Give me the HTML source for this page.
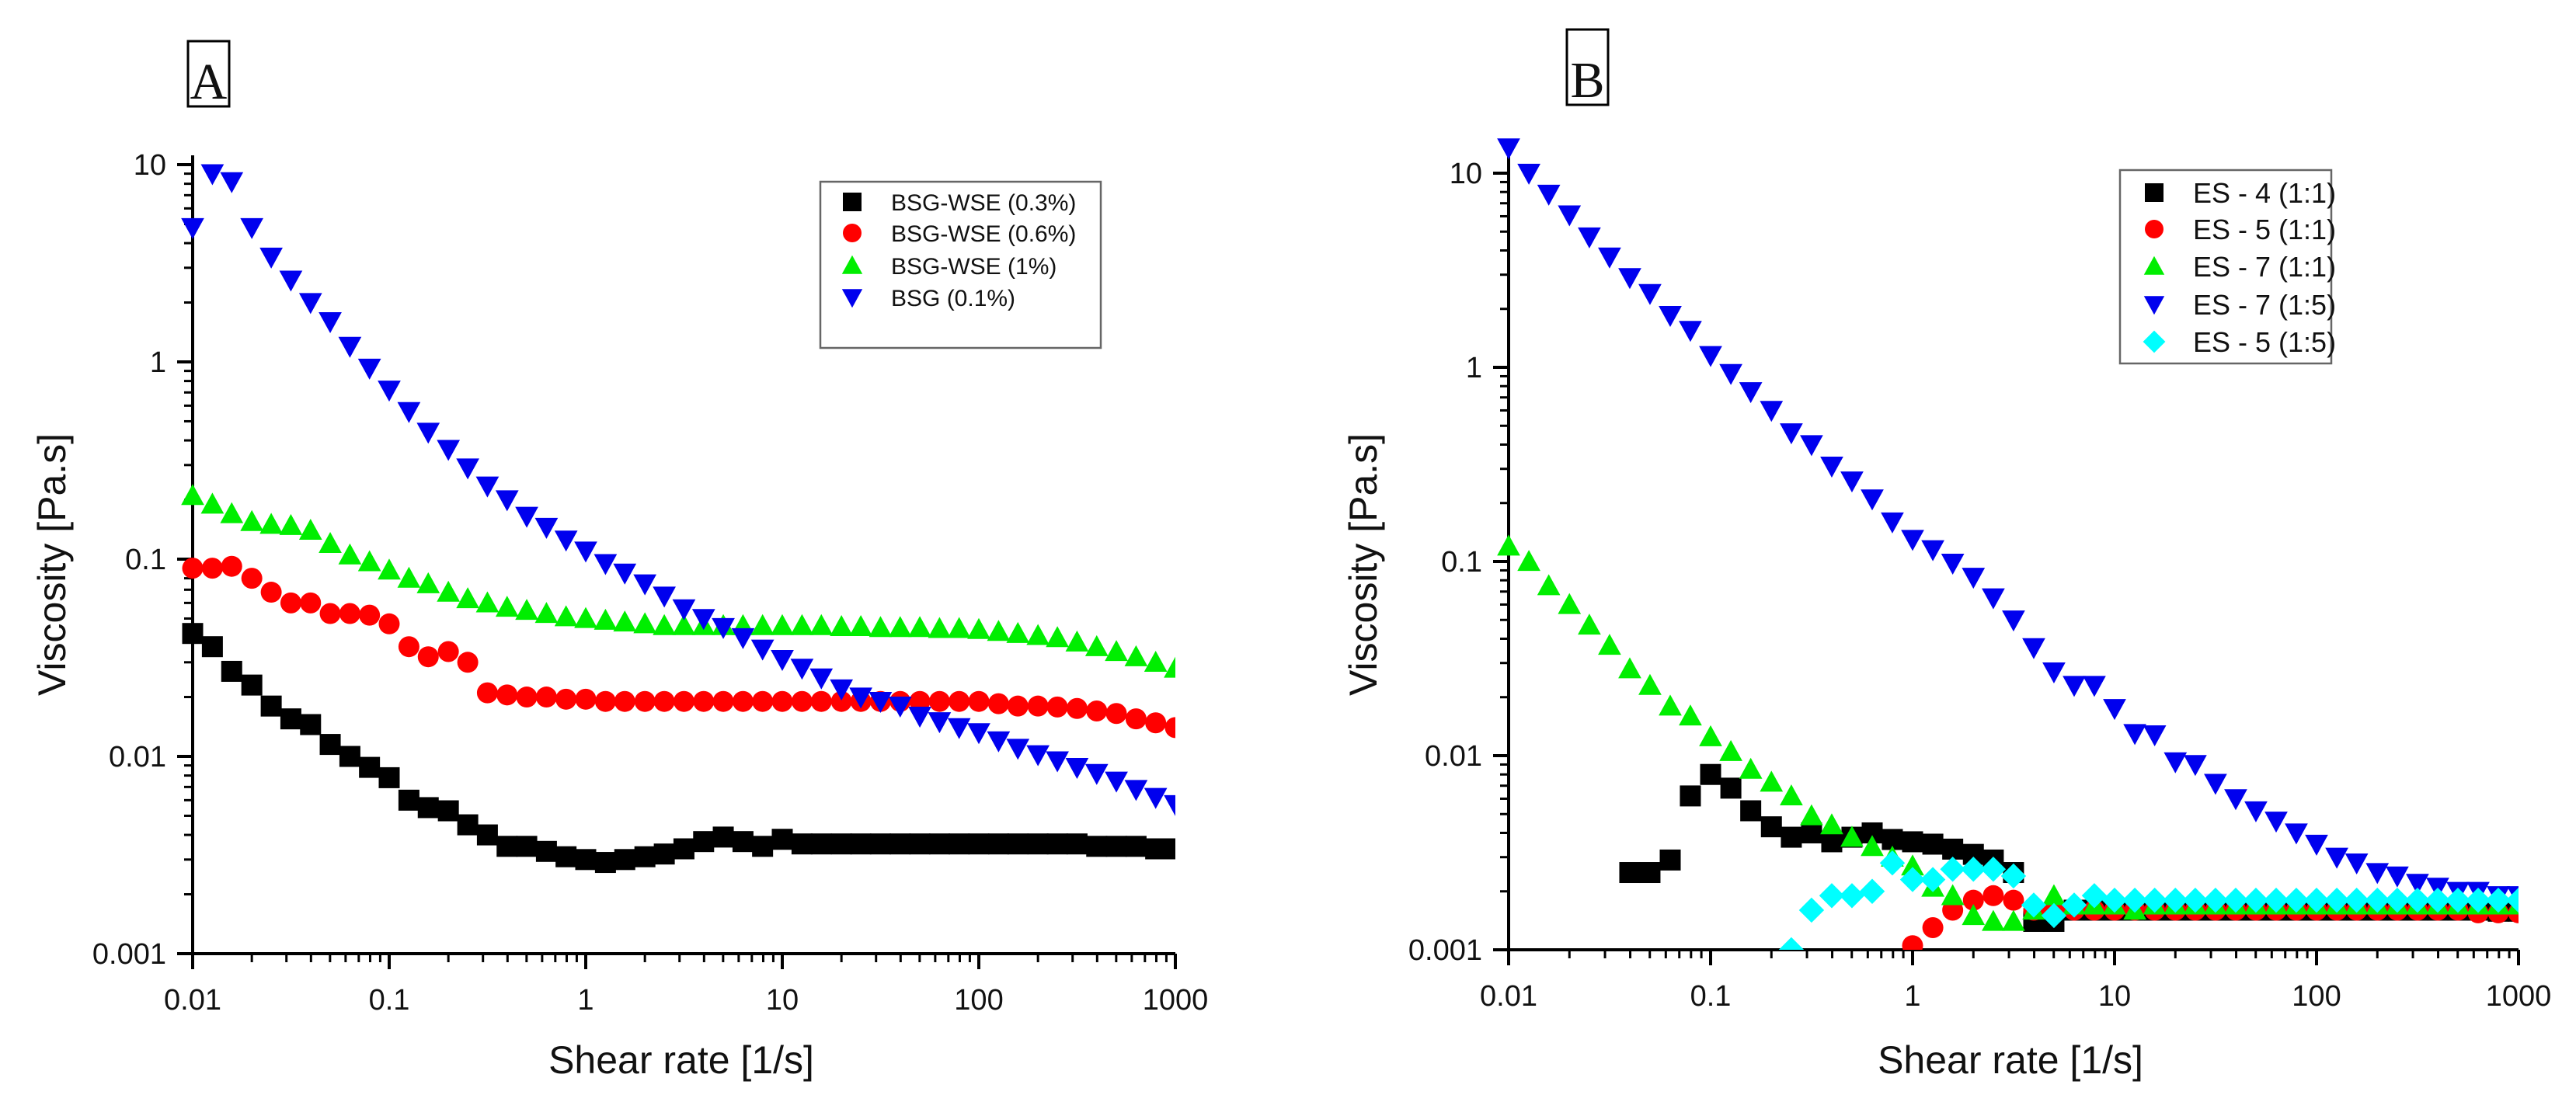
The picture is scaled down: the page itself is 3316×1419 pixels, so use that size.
<!DOCTYPE html>
<html><head><meta charset="utf-8">
<style>
html,body{margin:0;padding:0;background:#fff;}
svg{display:block;}
text{font-family:"Liberation Sans",Arial,sans-serif;fill:#111;}
</style></head>
<body>
<svg id="fig" width="3316" height="1419" viewBox="0 0 3316 1419" xmlns="http://www.w3.org/2000/svg">
  <g id="panelA"></g>
  <g id="panelB"></g>
</svg>
<script>
// shared x categories: shear rates (log-spaced, 10 per decade, 0.01..1000)
const shearRates = [0.01,0.0126,0.0158,0.02,0.0251,0.0316,0.0398,0.0501,0.0631,0.0794,
0.1,0.126,0.158,0.2,0.251,0.316,0.398,0.501,0.631,0.794,
1,1.26,1.58,2,2.51,3.16,3.98,5.01,6.31,7.94,
10,12.6,15.8,20,25.1,31.6,39.8,50.1,63.1,79.4,
100,126,158,200,251,316,398,501,631,794,1000];
const xTickLabels = ["0.01","0.1","1","10","100","1000"];
const xTickValues = [0.01,0.1,1,10,100,1000];
const yTickLabels = ["0.001","0.01","0.1","1","10"];
const yTickValues = [0.001,0.01,0.1,1,10];

// Panel A series
const aBlack = [0.042,0.036,0.027,0.023,0.018,0.0155,0.0145,0.0115,0.010,0.0088,
0.0078,0.006,0.0055,0.0053,0.0045,0.004,0.0035,0.0035,0.0033,0.0031,
0.003,0.0029,0.003,0.0031,0.0032,0.0034,0.0037,0.0039,0.0037,0.0035,
0.0038,0.0036,0.0036,0.0036,0.0036,0.0036,0.0036,0.0036,0.0036,0.0036,
0.0036,0.0036,0.0036,0.0036,0.0036,0.0036,0.0035,0.0035,0.0035,0.0034,0.0034];
const aRed = [0.09,0.09,0.092,0.08,0.068,0.06,0.06,0.053,0.053,0.052,
0.047,0.036,0.032,0.034,0.030,0.021,0.0205,0.020,0.020,0.0195,
0.0195,0.019,0.019,0.019,0.019,0.019,0.019,0.019,0.019,0.019,
0.019,0.019,0.019,0.019,0.019,0.019,0.019,0.019,0.019,0.019,
0.019,0.0185,0.018,0.018,0.0178,0.0175,0.017,0.0165,0.0155,0.0148,0.014];
const aGreen = [0.21,0.19,0.17,0.155,0.15,0.148,0.14,0.12,0.105,0.097,
0.088,0.08,0.075,0.068,0.063,0.06,0.057,0.055,0.053,0.051,
0.05,0.049,0.048,0.047,0.046,0.046,0.046,0.046,0.046,0.046,
0.046,0.046,0.046,0.0455,0.0455,0.045,0.045,0.045,0.0445,0.0445,
0.044,0.043,0.042,0.041,0.04,0.038,0.036,0.034,0.032,0.030,0.028];
const aBlue = [4.8,9.0,8.2,4.8,3.4,2.6,2.0,1.6,1.2,0.93,
0.72,0.56,0.44,0.36,0.29,0.235,0.2,0.165,0.145,0.125,
0.11,0.095,0.085,0.075,0.065,0.056,0.05,0.045,0.04,0.035,
0.031,0.028,0.025,0.022,0.02,0.019,0.018,0.016,0.015,0.014,
0.0132,0.012,0.011,0.0102,0.0095,0.0088,0.0082,0.0075,0.0068,0.0062,0.0057];

// Panel B series (null = no point)
const bBlack = [null,null,null,null,null,null,0.0025,0.0025,0.0029,0.0062,
0.008,0.0068,0.0052,0.0043,0.0038,0.004,0.0036,0.0038,0.004,0.0037,
0.0036,0.0035,0.0033,0.0031,0.0029,0.0025,0.0014,0.0014,0.0016,0.0016,
0.0016,0.0016,0.0016,0.0016,0.0016,0.0016,0.0016,0.0016,0.0016,0.0016,
0.0016,0.0016,0.0016,0.0016,0.0016,0.0016,0.0016,0.0016,0.0016,0.00158,0.00158];
const bRed = [null,null,null,null,null,null,null,null,null,null,
null,null,null,null,null,null,null,null,null,null,
0.00105,0.0013,0.0016,0.0018,0.0019,0.0018,0.0016,0.0016,0.0016,0.0016,
0.0016,0.0016,0.0016,0.0016,0.0016,0.0016,0.0016,0.0016,0.0016,0.0016,
0.0016,0.0016,0.0016,0.0016,0.0016,0.0016,0.0016,0.0016,0.00155,0.00155,0.00155];
const bGreen = [0.12,0.1,0.075,0.06,0.047,0.037,0.028,0.023,0.018,0.016,
0.0125,0.0105,0.0085,0.0073,0.0062,0.0049,0.0044,0.0038,0.0034,0.003,
0.0027,0.0021,0.0019,0.0015,0.0014,0.0014,0.0016,0.0019,0.0017,0.0017,
0.0017,0.0016,0.0017,0.0017,0.0017,0.0017,0.0017,0.0017,0.0017,0.0017,
0.0017,0.0017,0.0017,0.0017,0.0017,0.0017,0.0017,0.0017,0.0017,0.0017,0.0017];
const bBlue = [13.5,10,7.8,6.1,4.7,3.7,2.9,2.4,1.85,1.55,
1.15,0.93,0.75,0.6,0.46,0.4,0.31,0.26,0.21,0.16,
0.13,0.115,0.098,0.083,0.065,0.05,0.036,0.027,0.023,0.023,
0.0175,0.013,0.0128,0.0093,0.009,0.0072,0.006,0.0052,0.0046,0.004,
0.0035,0.003,0.0028,0.0025,0.0024,0.0022,0.0021,0.002,0.002,0.0019,0.0019];
const bCyan = [null,null,null,null,null,null,null,null,null,null,
null,null,null,null,0.001,0.0016,0.0019,0.0019,0.002,0.0028,
0.0023,0.0023,0.0026,0.0026,0.0026,0.0024,0.0017,0.0015,0.0017,0.0019,
0.0018,0.0018,0.0018,0.0018,0.0018,0.0018,0.0018,0.0018,0.0018,0.0018,
0.0018,0.0018,0.0018,0.0018,0.0018,0.0018,0.0018,0.0018,0.0018,0.0018,0.0018];

const legendA = ["BSG-WSE (0.3%)","BSG-WSE (0.6%)","BSG-WSE (1%)","BSG (0.1%)"];
const legendB = ["ES - 4 (1:1)","ES - 5 (1:1)","ES - 7 (1:1)","ES - 7 (1:5)","ES - 5 (1:5)"];

const NS = "http://www.w3.org/2000/svg";
function mk(parent, tag, attrs) {
  const e = document.createElementNS(NS, tag);
  for (const k in attrs) e.setAttribute(k, attrs[k]);
  parent.appendChild(e);
  return e;
}
function marker(g, shape, cx, cy, s) {
  let e;
  if (shape === "square") {
    e = mk(g, "rect", {x: cx - s/2, y: cy - s/2, width: s, height: s, fill: "#000"});
  } else if (shape === "circle") {
    e = mk(g, "circle", {cx: cx, cy: cy, r: s/2, fill: "#ff0000"});
  } else if (shape === "up") {
    e = mk(g, "polygon", {points: `${cx},${cy - s*0.55} ${cx + s*0.55},${cy + s*0.45} ${cx - s*0.55},${cy + s*0.45}`, fill: "#00ee00"});
  } else if (shape === "down") {
    e = mk(g, "polygon", {points: `${cx - s*0.55},${cy - s*0.45} ${cx + s*0.55},${cy - s*0.45} ${cx},${cy + s*0.55}`, fill: "#0000ee"});
  } else {
    e = mk(g, "polygon", {points: `${cx},${cy - s*0.6} ${cx + s*0.6},${cy} ${cx},${cy + s*0.6} ${cx - s*0.6},${cy}`, fill: "#00ffff"});
  }
  return e;
}

function drawPanel(g, cfg) {
  const xs = v => cfg.x0 + (Math.log10(v) + 2) * cfg.xDec;
  const ys = v => cfg.y0 - (Math.log10(v) + 3) * cfg.yDec;
  const clipId = cfg.id + "-clip";
  const defs = mk(g, "defs", {});
  const cp = mk(defs, "clipPath", {id: clipId});
  mk(cp, "rect", {x: cfg.x0 - 20, y: cfg.top - 10, width: xs(1000) - cfg.x0 + 20, height: cfg.y0 - cfg.top + 10});

  // axes
  const axes = mk(g, "g", {stroke: "#000", "stroke-width": 4});
  
  
  mk(axes, "line", {x1: cfg.x0, y1: cfg.top, x2: cfg.x0, y2: cfg.y0 + 20});
  mk(axes, "line", {x1: cfg.x0 - 20, y1: cfg.y0, x2: xs(1000), y2: cfg.y0});
  // x ticks
  for (let d = -2; d <= 3; d++) {
    const base = Math.pow(10, d);
    mk(axes, "line", {x1: xs(base), y1: cfg.y0, x2: xs(base), y2: cfg.y0 + 20});
    if (d < 3) for (let m = 2; m <= 9; m++) {
      const x = xs(base * m);
      mk(axes, "line", {x1: x, y1: cfg.y0, x2: x, y2: cfg.y0 + 11, "stroke-width": 3});
    }
  }
  // y ticks
  for (let d = -3; d <= 1; d++) {
    const base = Math.pow(10, d);
    mk(axes, "line", {x1: cfg.x0 - 20, y1: ys(base), x2: cfg.x0, y2: ys(base)});
    for (let m = 2; m <= 9; m++) {
      const y = ys(base * m);
      if (y < cfg.top) continue;
      mk(axes, "line", {x1: cfg.x0 - 11, y1: y, x2: cfg.x0, y2: y, "stroke-width": 3});
    }
  }
  xTickValues.forEach((v, i) => {
    const t = mk(g, "text", {x: xs(v), y: cfg.y0 + 72, "font-size": 38, "text-anchor": "middle"});
    t.textContent = xTickLabels[i];
    
    
  });
  yTickValues.forEach((v, i) => {
    const t = mk(g, "text", {x: cfg.x0 - 34, y: ys(v) + 13, "font-size": 38, "text-anchor": "end"});
    t.textContent = yTickLabels[i];
    
    
  });
  const xt = mk(g, "text", {x: cfg.xTitleX, y: 1382, "font-size": 50, "text-anchor": "middle"});
  xt.textContent = "Shear rate [1/s]";
  
  
  const yt = mk(g, "text", {x: 0, y: 0, "font-size": 50, "text-anchor": "middle", transform: `translate(${cfg.yTitleX},${cfg.yTitleY}) rotate(-90)`});
  yt.textContent = "Viscosity [Pa.s]";
  
  

  // panel letter
  const lb = mk(g, "rect", {x: cfg.lbl[0], y: cfg.lbl[1], width: cfg.lbl[2], height: cfg.lbl[3], fill: "none", stroke: "#000", "stroke-width": 3});
  
  
  const lt = mk(g, "text", {x: cfg.lbl[0] + cfg.lbl[2]/2, y: cfg.lbl[1] + cfg.lbl[3] - 10, "font-size": 66, "text-anchor": "middle", style: 'font-family:"Liberation Serif",serif'});
  lt.textContent = cfg.letter;
  
  

  // series
  const sg = mk(g, "g", {"clip-path": `url(#${clipId})`});
  cfg.series.forEach(s => {
    const grp = mk(sg, "g", {});
    
    
    s.values.forEach((v, i) => {
      if (v === null) return;
      const m = marker(grp, s.shape, xs(shearRates[i]), ys(v), 27);
      
      
    });
  });

  // legend
  const L = cfg.legend;
  const lg = mk(g, "g", {});
  
  
  mk(lg, "rect", {x: L.x, y: L.y, width: L.w, height: L.h, fill: "#fff", stroke: "#666", "stroke-width": 2.5});
  cfg.series.forEach((s, i) => {
    const cy = L.rows[i];
    const ent = mk(lg, "g", {});
    
    
    marker(ent, s.shape, L.mx, cy, 24);
    const t = mk(ent, "text", {x: L.tx, y: cy + L.fs * 0.36, "font-size": L.fs});
    t.textContent = L.labels[i];
  });
}

drawPanel(document.getElementById("panelA"), {
  id: "a", letter: "A", x0: 248, xDec: 253, y0: 1228, yDec: 254, top: 200,
  xTitleX: 877, yTitleX: 84, yTitleY: 727, lbl: [242, 53, 53, 84],
  series: [
    {name: "series-bsg-wse-0.3", shape: "square", values: aBlack},
    {name: "series-bsg-wse-0.6", shape: "circle", values: aRed},
    {name: "series-bsg-wse-1", shape: "up", values: aGreen},
    {name: "series-bsg-0.1", shape: "down", values: aBlue}
  ],
  legend: {x: 1056, y: 234, w: 361, h: 214, mx: 1097, tx: 1147, fs: 30, rows: [260, 300, 342, 383], labels: legendA}
});
drawPanel(document.getElementById("panelB"), {
  id: "b", letter: "B", x0: 1942, xDec: 260, y0: 1223, yDec: 250, top: 180,
  xTitleX: 2588, yTitleX: 1772, yTitleY: 727, lbl: [2017, 38, 53, 97],
  series: [
    {name: "series-es4-1-1", shape: "square", values: bBlack},
    {name: "series-es5-1-1", shape: "circle", values: bRed},
    {name: "series-es7-1-1", shape: "up", values: bGreen},
    {name: "series-es7-1-5", shape: "down", values: bBlue},
    {name: "series-es5-1-5", shape: "diamond", values: bCyan}
  ],
  legend: {x: 2729, y: 219, w: 272, h: 249, mx: 2773, tx: 2823, fs: 36, rows: [248, 295, 343, 392, 440], labels: legendB}
});
</script>
</body></html>
